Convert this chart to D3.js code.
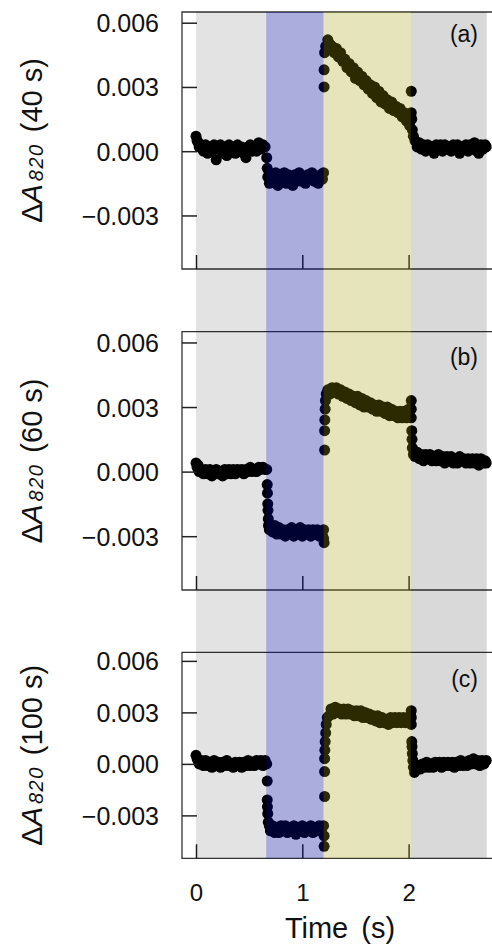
<!DOCTYPE html>
<html>
<head>
<meta charset="utf-8">
<script src="https://cdn.jsdelivr.net/npm/d3@7"></script>
<style>
  body { margin: 0; background: #fff; }
  text { font-family: "Liberation Sans", Arial, sans-serif; fill: #111; }
</style>
</head>
<body>
<div id="my_dataviz"></div>
<script>
// illumination periods (s): dark, blue, yellow, dark
var periodEdges = [0, 0.66, 1.2, 2.02, 2.735];
var periodNames = ["dark1", "blue", "yellow", "dark2"];

var yTicks = [-0.003, 0.000, 0.003, 0.006];
var xTicks = [0, 1, 2];
var panelLetters = ["(a)", "(b)", "(c)"];
var panelTimes = ["40 s", "60 s", "100 s"];

// [time (s), dA820]
var data40 = [
  [0.00, 0.0007], [0.01, 0.0005], [0.02, 0.0004], [0.03, 0.0002], [0.05, 0.0003], [0.07, 0.0000],
  [0.09, 0.0003], [0.11, -0.0001], [0.13, 0.0002], [0.15, 0.0000], [0.17, 0.0003], [0.19, -0.0004],
  [0.21, 0.0001], [0.23, 0.0003], [0.25, -0.0001], [0.27, 0.0002], [0.29, -0.0002], [0.31, 0.0003],
  [0.33, 0.0000], [0.35, 0.0002], [0.37, -0.0001], [0.39, 0.0003], [0.41, 0.0000], [0.43, 0.0002],
  [0.45, -0.0001], [0.47, -0.0003], [0.49, 0.0002], [0.51, 0.0003], [0.53, 0.0000], [0.55, 0.0002],
  [0.57, 0.0000], [0.59, 0.0004], [0.61, 0.0001], [0.63, 0.0003], [0.65, 0.0002],
  [0.665, -0.0003], [0.67, -0.0008], [0.675, -0.0012],
  [0.69, -0.0015], [0.71, -0.0011], [0.73, -0.0014], [0.75, -0.0010], [0.77, -0.0016], [0.79, -0.0012],
  [0.81, -0.0014], [0.83, -0.0010], [0.85, -0.0015], [0.87, -0.0011], [0.89, -0.0013], [0.91, -0.0016],
  [0.93, -0.0011], [0.95, -0.0014], [0.97, -0.0010], [0.99, -0.0014], [1.01, -0.0012], [1.03, -0.0015],
  [1.05, -0.0011], [1.07, -0.0013], [1.09, -0.0010], [1.11, -0.0014], [1.13, -0.0012], [1.15, -0.0015],
  [1.17, -0.0011], [1.19, -0.0013], [1.20, -0.0010],
  [1.205, 0.0030], [1.205, 0.0038], [1.21, 0.0046], [1.22, 0.0049], [1.24, 0.0052], [1.26, 0.0050],
  [1.28, 0.0049], [1.30, 0.0046], [1.32, 0.0048], [1.34, 0.0044], [1.36, 0.0046], [1.38, 0.0042],
  [1.40, 0.0043], [1.42, 0.0039], [1.44, 0.0041], [1.46, 0.0037], [1.48, 0.0039], [1.50, 0.0034],
  [1.52, 0.0037], [1.54, 0.0033], [1.56, 0.0035], [1.58, 0.0031], [1.60, 0.0033], [1.62, 0.0029],
  [1.64, 0.0031], [1.66, 0.0027], [1.68, 0.0030], [1.70, 0.0025], [1.72, 0.0028], [1.74, 0.0023],
  [1.76, 0.0026], [1.78, 0.0022], [1.80, 0.0024], [1.82, 0.0020], [1.84, 0.0023], [1.86, 0.0019],
  [1.88, 0.0021], [1.90, 0.0018], [1.92, 0.0020], [1.94, 0.0016], [1.96, 0.0018], [1.98, 0.0014],
  [2.00, 0.0016], [2.01, 0.0012],
  [2.025, 0.0028], [2.025, 0.0018], [2.03, 0.0015], [2.035, 0.0010], [2.045, 0.0007], [2.06, 0.0005],
  [2.08, 0.0002], [2.10, 0.0004], [2.12, 0.0001], [2.14, 0.0003], [2.16, 0.0000], [2.18, 0.0003],
  [2.20, 0.0001], [2.22, 0.0002], [2.24, -0.0001], [2.26, 0.0003], [2.28, 0.0001], [2.30, 0.0003],
  [2.32, 0.0000], [2.34, 0.0003], [2.36, 0.0001], [2.38, 0.0002], [2.40, 0.0000], [2.42, 0.0003],
  [2.44, 0.0001], [2.46, 0.0003], [2.48, -0.0001], [2.50, 0.0002], [2.52, 0.0001], [2.54, 0.0003],
  [2.56, 0.0000], [2.58, 0.0003], [2.60, 0.0001], [2.62, 0.0004], [2.64, 0.0000], [2.66, -0.0001],
  [2.68, 0.0003], [2.70, 0.0001], [2.72, 0.0003], [2.73, 0.0002]
];

var data60 = [
  [0.00, 0.0004], [0.01, 0.0002], [0.02, 0.0003], [0.03, 0.0000], [0.05, 0.0001], [0.07, -0.0001],
  [0.09, 0.0001], [0.11, -0.0001], [0.13, 0.0001], [0.15, -0.0002], [0.17, 0.0000], [0.19, 0.0001],
  [0.21, -0.0001], [0.23, 0.0000], [0.25, -0.0002], [0.27, 0.0001], [0.29, -0.0001], [0.31, 0.0001],
  [0.33, -0.0001], [0.35, 0.0001], [0.37, -0.0001], [0.39, 0.0001], [0.41, 0.0000], [0.43, 0.0001],
  [0.45, -0.0001], [0.47, 0.0001], [0.49, 0.0000], [0.51, 0.0002], [0.53, 0.0000], [0.55, 0.0001],
  [0.57, 0.0000], [0.59, 0.0002], [0.61, 0.0001], [0.63, 0.0002], [0.65, 0.0001], [0.665, 0.0001],
  [0.67, -0.0006], [0.672, -0.0010], [0.675, -0.0015], [0.677, -0.0018], [0.68, -0.0022], [0.682, -0.0025],
  [0.69, -0.0027], [0.70, -0.0025], [0.72, -0.0028], [0.74, -0.0025], [0.76, -0.0029], [0.78, -0.0026],
  [0.80, -0.0029], [0.82, -0.0027], [0.84, -0.0030], [0.86, -0.0027], [0.88, -0.0029], [0.90, -0.0026],
  [0.92, -0.0030], [0.94, -0.0027], [0.96, -0.0029], [0.98, -0.0026], [1.00, -0.0030], [1.02, -0.0027],
  [1.04, -0.0029], [1.06, -0.0027], [1.08, -0.0030], [1.10, -0.0027], [1.12, -0.0029], [1.14, -0.0027],
  [1.16, -0.0030], [1.18, -0.0028], [1.19, -0.0030], [1.20, -0.0027], [1.20, -0.0031], [1.205, -0.0033],
  [1.21, 0.0010], [1.21, 0.0019], [1.212, 0.0024], [1.215, 0.0029], [1.218, 0.0033], [1.225, 0.0036],
  [1.24, 0.0038], [1.26, 0.0036], [1.28, 0.0039], [1.30, 0.0037], [1.32, 0.0039], [1.34, 0.0036],
  [1.36, 0.0038], [1.38, 0.0035], [1.40, 0.0037], [1.42, 0.0034], [1.44, 0.0036], [1.46, 0.0033],
  [1.48, 0.0035], [1.50, 0.0032], [1.52, 0.0035], [1.54, 0.0031], [1.56, 0.0034], [1.58, 0.0030],
  [1.60, 0.0033], [1.62, 0.0030], [1.64, 0.0032], [1.66, 0.0029], [1.68, 0.0031], [1.70, 0.0028],
  [1.72, 0.0031], [1.74, 0.0028], [1.76, 0.0030], [1.78, 0.0027], [1.80, 0.0030], [1.82, 0.0026],
  [1.84, 0.0029], [1.86, 0.0026], [1.88, 0.0028], [1.90, 0.0025], [1.92, 0.0028], [1.94, 0.0025],
  [1.96, 0.0028], [1.98, 0.0025], [2.00, 0.0029], [2.01, 0.0026],
  [2.025, 0.0033], [2.025, 0.0029], [2.025, 0.0025],
  [2.03, 0.0019], [2.032, 0.0015], [2.035, 0.0011], [2.045, 0.0008], [2.06, 0.0007], [2.08, 0.0009],
  [2.10, 0.0006], [2.12, 0.0008], [2.14, 0.0005], [2.16, 0.0008], [2.18, 0.0006], [2.20, 0.0008],
  [2.22, 0.0005], [2.24, 0.0007], [2.26, 0.0005], [2.28, 0.0008], [2.30, 0.0005], [2.32, 0.0007],
  [2.34, 0.0004], [2.36, 0.0007], [2.38, 0.0005], [2.40, 0.0007], [2.42, 0.0004], [2.44, 0.0006],
  [2.46, 0.0004], [2.48, 0.0007], [2.50, 0.0005], [2.52, 0.0006], [2.54, 0.0004], [2.56, 0.0006],
  [2.58, 0.0004], [2.60, 0.0006], [2.62, 0.0004], [2.64, 0.0006], [2.66, 0.0003], [2.68, 0.0006],
  [2.70, 0.0004], [2.72, 0.0005], [2.73, 0.0004]
];

var data100 = [
  [0.00, 0.0005], [0.01, 0.0003], [0.02, 0.0002], [0.03, 0.0000], [0.05, 0.0002], [0.07, -0.0001],
  [0.09, 0.0002], [0.11, -0.0001], [0.13, 0.0001], [0.15, -0.0002], [0.17, 0.0002], [0.19, -0.0001],
  [0.21, 0.0001], [0.23, -0.0002], [0.25, 0.0001], [0.27, -0.0001], [0.29, 0.0002], [0.31, -0.0001],
  [0.33, 0.0000], [0.35, -0.0002], [0.37, 0.0001], [0.39, -0.0001], [0.41, 0.0001], [0.43, -0.0002],
  [0.45, 0.0001], [0.47, -0.0001], [0.49, 0.0002], [0.51, -0.0001], [0.53, 0.0001], [0.55, -0.0001],
  [0.57, 0.0002], [0.59, 0.0000], [0.61, 0.0002], [0.63, -0.0001], [0.65, 0.0002], [0.665, 0.0000],
  [0.67, -0.0010], [0.67, -0.0021], [0.672, -0.0025], [0.675, -0.0029], [0.68, -0.0034],
  [0.69, -0.0036], [0.70, -0.0039], [0.72, -0.0036], [0.74, -0.0040], [0.76, -0.0037], [0.78, -0.0040],
  [0.80, -0.0036], [0.82, -0.0039], [0.84, -0.0036], [0.86, -0.0040], [0.88, -0.0037], [0.90, -0.0039],
  [0.92, -0.0036], [0.94, -0.0041], [0.96, -0.0037], [0.98, -0.0039], [1.00, -0.0036], [1.02, -0.0040],
  [1.04, -0.0037], [1.06, -0.0039], [1.08, -0.0036], [1.10, -0.0040], [1.12, -0.0037], [1.14, -0.0039],
  [1.16, -0.0036], [1.18, -0.0039], [1.20, -0.0036], [1.205, -0.0042], [1.205, -0.0048],
  [1.21, -0.0019], [1.21, -0.00045], [1.21, 0.0003], [1.212, 0.0008], [1.215, 0.0013], [1.22, 0.0018],
  [1.225, 0.0023], [1.235, 0.0027], [1.25, 0.0028], [1.27, 0.0032], [1.29, 0.0029], [1.31, 0.0033],
  [1.33, 0.0030], [1.35, 0.0032], [1.37, 0.0029], [1.39, 0.0032], [1.41, 0.0029], [1.43, 0.0032],
  [1.45, 0.0029], [1.47, 0.0031], [1.49, 0.0028], [1.51, 0.0031], [1.53, 0.0028], [1.55, 0.0031],
  [1.57, 0.0027], [1.59, 0.0030], [1.61, 0.0027], [1.63, 0.0029], [1.65, 0.0026], [1.67, 0.0028],
  [1.69, 0.0025], [1.71, 0.0028], [1.73, 0.0024], [1.75, 0.0027], [1.77, 0.0024], [1.79, 0.0026],
  [1.81, 0.0023], [1.83, 0.0027], [1.85, 0.0024], [1.87, 0.0027], [1.89, 0.0024], [1.91, 0.0027],
  [1.93, 0.0024], [1.95, 0.0027], [1.97, 0.0024], [1.99, 0.0027], [2.01, 0.0025], [2.02, 0.0028],
  [2.025, 0.0031], [2.025, 0.0027], [2.025, 0.0023],
  [2.03, 0.0013], [2.032, 0.0010], [2.035, 0.0006], [2.04, 0.0002], [2.045, -0.0002], [2.055, -0.0005],
  [2.07, -0.0003], [2.09, -0.0001], [2.11, -0.0003], [2.13, 0.0000], [2.15, -0.0002], [2.17, 0.0001],
  [2.19, -0.0002], [2.21, 0.0000], [2.23, -0.0002], [2.25, 0.0001], [2.27, -0.0001], [2.29, 0.0001],
  [2.31, -0.0002], [2.33, 0.0001], [2.35, -0.0001], [2.37, 0.0001], [2.39, -0.0001], [2.41, 0.0001],
  [2.43, -0.0002], [2.45, 0.0001], [2.47, -0.0001], [2.49, 0.0002], [2.51, -0.0001], [2.53, 0.0001],
  [2.55, -0.0001], [2.57, 0.0002], [2.59, 0.0000], [2.61, 0.0003], [2.63, 0.0000], [2.65, 0.0002],
  [2.67, -0.0001], [2.69, 0.0002], [2.71, 0.0000], [2.73, 0.0002]
];

var allData = [data40, data60, data100];

// layout
var W = 492, H = 948;
var frameLeft = 182, frameRight = 496;
var panelTops = [12, 331.7, 652.3];
var panelBottoms = [269, 590, 858.3];
var letterOffsets = [30, 33, 35];

var svg = d3.select("#my_dataviz")
    .append("svg")
        .attr("width", W)
        .attr("height", H);

var x = d3.scaleLinear().domain([-0.1317, 2.8221]).range([frameLeft, frameRight]);

var shadeColor = {
    dark1: "rgba(0,0,0,0.11)",
    blue: "rgba(0,5,150,0.33)",
    yellow: "rgba(161,154,0,0.27)",
    dark2: "rgba(0,0,0,0.15)"
};

allData.forEach(function(data, i) {
    var top = panelTops[i], bottom = panelBottoms[i];
    var y = d3.scaleLinear().domain([-0.0055, 0.0065]).range([bottom, top]);
    var g = svg.append("g");

    // data points
    g.selectAll("circle")
        .data(data)
        .enter()
        .append("circle")
        .attr("cx", function(d) { return x(d[0]); })
        .attr("cy", function(d) { return y(d[1]); })
        .attr("r", 5.5)
        .attr("fill", "#000");

    // frame (right side falls outside the picture)
    g.append("path")
        .attr("d", "M" + frameRight + "," + top + "H" + frameLeft + "V" + bottom + "H" + frameRight)
        .attr("fill", "none")
        .attr("stroke", "#333")
        .attr("stroke-width", 1.3);

    var yAxis = g.append("g")
        .attr("transform", "translate(" + frameLeft + ",0)")
        .call(d3.axisLeft(y).tickValues(yTicks).tickSize(-15).tickPadding(23).tickFormat(d3.format(".3f")));
    yAxis.select(".domain").remove();
    yAxis.selectAll("line").attr("stroke", "#222").attr("stroke-width", 1.5);
    yAxis.selectAll("text").style("font-size", "25px").attr("fill", "#111").attr("dy", "0.36em");

    var xAxis = g.append("g")
        .attr("transform", "translate(0," + bottom + ")")
        .call(d3.axisBottom(x).tickValues(xTicks).tickSize(-14).tickPadding(26)
            .tickFormat(i == 2 ? d3.format("d") : function() { return ""; }));
    xAxis.select(".domain").remove();
    xAxis.selectAll("line").attr("stroke", "#222").attr("stroke-width", 1.5);
    xAxis.selectAll("text").style("font-size", "24px").attr("fill", "#111");

    // y label: ΔA820 (xx s)
    var lab = g.append("text")
        .attr("transform", "translate(42," + (top + bottom) / 2 + ") rotate(-90)")
        .attr("text-anchor", "middle")
        .style("font-size", "29px");
    lab.append("tspan").text("Δ");
    lab.append("tspan").style("font-style", "italic").text("A");
    lab.append("tspan").attr("dx", 3).attr("dy", 1)
        .style("font-size", "20px").style("font-style", "italic").attr("letter-spacing", 1.5).text("820");
    lab.append("tspan").attr("dx", 11).attr("dy", -1).text("(" + panelTimes[i] + ")");

    // panel letter
    g.append("text")
        .attr("x", 478)
        .attr("y", top + letterOffsets[i])
        .attr("text-anchor", "end")
        .style("font-size", "23px")
        .text(panelLetters[i]);
});

// x axis title
svg.append("text")
    .attr("x", 340)
    .attr("y", 938)
    .attr("text-anchor", "middle")
    .style("font-size", "29px")
    .attr("word-spacing", 5)
    .text("Time (s)");

// light periods, drawn over the data so the dots pick up the tint
svg.append("g").selectAll("rect")
    .data(periodNames)
    .enter()
    .append("rect")
    .attr("x", function(d, k) { return x(periodEdges[k]); })
    .attr("width", function(d, k) { return x(periodEdges[k + 1]) - x(periodEdges[k]); })
    .attr("y", panelTops[0])
    .attr("height", panelBottoms[2] - panelTops[0])
    .attr("fill", function(d) { return shadeColor[d]; });
</script>
</body>
</html>
